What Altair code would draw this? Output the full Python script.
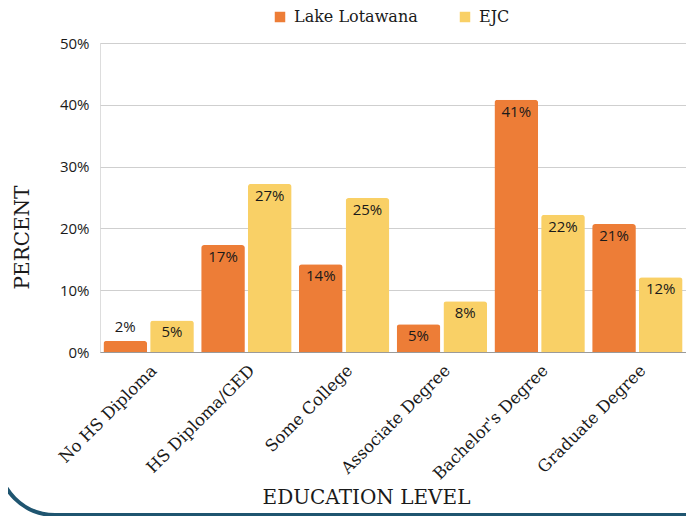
import altair as alt
import pandas as pd

categories = ["No HS Diploma", "HS Diploma/GED", "Some College",
              "Associate Degree", "Bachelor's Degree", "Graduate Degree"]
series_names = ["Lake Lotawana", "EJC"]
lake_values = [1.8, 17.3, 14.2, 4.5, 40.8, 20.7]
ejc_values = [5.1, 27.2, 24.9, 8.2, 22.2, 12.1]
y_ticks = [0, 10, 20, 30, 40, 50]
colors = ["#ED7D37", "#F9D066"]

rows = []
for c, a, b in zip(categories, lake_values, ejc_values):
    rows.append({"level": c, "group": series_names[0], "pct": a})
    rows.append({"level": c, "group": series_names[1], "pct": b})
df = pd.DataFrame(rows)

SLAB = "DejaVu Serif"
SANS = "Open Sans"

x_enc = alt.X("level:N", sort=categories,
              scale=alt.Scale(paddingInner=0.075, paddingOuter=0.035),
              axis=alt.Axis(title="EDUCATION LEVEL", labelAngle=-45, labelAlign="right",
                            labelBaseline="top", labelPadding=10, labelFont=SLAB,
                            labelFontSize=16.5, labelColor="#1a1a1a", ticks=False,
                            domainColor="#9a9a9a", titleFont=SLAB, titleFontSize=20,
                            titleFontWeight="normal", titleColor="#1a1a1a",
                            titleX=266, titleY=145, titleBaseline="middle",
                            titleAlign="center"))
xo_enc = alt.XOffset("group:N", sort=series_names,
                     scale=alt.Scale(paddingInner=0.065))
y_enc = alt.Y("pct:Q", scale=alt.Scale(domain=[0, 50]),
              axis=alt.Axis(title="PERCENT", values=y_ticks, labelExpr="datum.value + '%'",
                            labelFont=SANS, labelFontSize=15, labelColor="#1a1a1a",
                            labelPadding=11, ticks=False, domain=False,
                            gridColor="#cfcfcf", titleFont=SLAB, titleFontSize=20,
                            titleFontWeight="normal", titleColor="#1a1a1a",
                            titleX=-78, titleY=194, titleBaseline="middle",
                            titleAlign="center", titleAngle=-90))
color_enc = alt.Color("group:N", sort=series_names,
                      scale=alt.Scale(domain=series_names, range=colors),
                      legend=alt.Legend(title=None, orient="none", direction="horizontal",
                                        legendX=172, legendY=-34, symbolType="square",
                                        symbolSize=110, symbolStrokeWidth=0,
                                        labelFont=SLAB, labelFontSize=16,
                                        labelColor="#1a1a1a", columnPadding=39,
                                        labelOffset=6))

base = alt.Chart(df).encode(x=x_enc, xOffset=xo_enc, y=y_enc)

bars = base.mark_bar(cornerRadiusTopLeft=3, cornerRadiusTopRight=3).encode(color=color_enc)

labelled = base.transform_calculate(lbl="format(datum.pct, '.0f') + '%'")
text_in = labelled.transform_filter("datum.pct >= 3").mark_text(
    font=SANS, fontSize=15, color="#1a1a1a", baseline="middle", dy=12
).encode(text="lbl:N")
text_out = labelled.transform_filter("datum.pct < 3").mark_text(
    font=SANS, fontSize=15, color="#1a1a1a", baseline="middle", dy=-14
).encode(text="lbl:N")

frame = alt.Chart(alt.Data(values=[{"k": 1}])).mark_rect(
    filled=False, stroke="#1f5570", strokeWidth=4, cornerRadius=57
).encode(x=alt.value(-102), x2=alt.value(660), y=alt.value(-400), y2=alt.value(472))

chart = alt.layer(frame, bars, text_in, text_out).properties(
    width=586, height=309,
    autosize=alt.AutoSizeParams(type="none"),
    padding={"left": 92, "top": 35, "right": 0, "bottom": 164},
).configure_view(stroke=None).configure_legend(
    labelFont=SLAB, labelFontSize=16
).configure(background="white")

chart.save("out.html", embed_options={"renderer": "svg", "actions": False})
